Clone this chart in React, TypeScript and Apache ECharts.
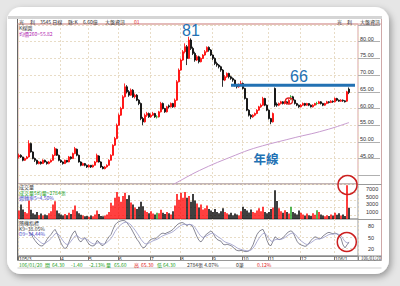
import React, { useEffect, useRef } from "react";
import * as echarts from "echarts";

// [open, close, low, high] per trading slot
const candles: number[][] = [
[45.5,46,45,46.5],[46,45.5,45.2,46.3],[45.5,44.5,44.2,45.6],[44.5,45,44.3,45.3],[45,45.5,44.8,45.8],
[45.5,49.5,45.3,50.5],[49.5,47,46.8,49.8],[47,45,44.8,47.2],[45,44.5,44,45.3],[44.5,43.5,43.2,44.7],
[43.5,44,43.3,44.3],[44,43.5,43.2,44.2],[43.5,44.5,43.4,44.8],[44.5,44,43.8,44.7],[44,43.5,43.2,44.2],
[43.5,44,43.3,44.3],[44,44.5,43.8,44.8],[44.5,46,44.4,46.3],[46,48,45.8,48.5],[47.8,46,45.8,48],
[46,44.5,44.2,46.2],[44.5,44,43.7,44.8],[44,43.5,43.2,44.2],[43.5,44.5,43.4,44.7],[44.5,44,43.8,44.6],
[44,45.5,43.9,45.8],[45.5,45,44.7,45.7],[45,46.5,44.9,46.8],[46.5,48,46.3,48.5],[47.8,46,45.7,48],
[46,44,43.8,46.2],[44,43,42.7,44.2],[43,43.5,42.8,43.8],[43.5,43,42.7,43.7],[43,42.5,42.2,43.2],
[42.5,43,42.3,43.3],[43,42.5,42.2,43.1],[42.5,43,42.3,43.2],[43,44,42.9,44.3],[44,46,43.9,46.5],
[45.8,44,43.8,46],[44,42.5,42.2,44.2],[42.5,42,41.8,42.8],[42,42.5,41.8,42.8],[42.5,43,42.3,43.3],
[43,44.5,42.9,44.8],[44.5,46,44.4,46.3],[46,49,45.9,49.3],[49,51,48.8,51.5],[51,55,50.8,55.5],
[55,58,54.8,58.5],[58,60,57.8,60.5],[60,63.5,59.8,64],[63.5,66.5,63.3,67.5],[66.5,65,64.5,67],
[65,64,63.5,65.5],[64,65.5,63.8,66],[65.5,63.5,63.2,65.8],[63.5,64,63,64.5],[64,62.5,62.2,64.3],
[62.5,61.5,61,62.8],[61.5,57,56.5,61.8],[57,56,55,57.5],[56,58,55.8,58.5],[58,58.5,57.5,59],
[58.5,57.5,57.2,58.8],[57.5,58,57.2,58.5],[58,58.5,57.8,59],[58.5,57.5,57.2,58.7],[57.5,57.5,57,58],
[57.5,59,57.3,59.3],[59,61.5,58.8,62],[61.5,60,59.7,61.8],[60,59,58.7,60.2],[59,60.5,58.8,60.8],
[60.8,60.5,60,61.2],[60.5,61.5,60.3,61.8],[61.5,60.5,60.2,61.7],[60.5,62.5,60.3,63],[62.5,68,62.3,68.5],
[68,71.5,67.8,72],[71.5,74.5,71.3,75],[74.5,77,74.3,77.5],[77,78.5,76.5,79.5],[78.5,75,73,79],
[75,80.5,74.8,81.5],[80.5,78,77.5,81],[78,76.5,76,78.5],[76.5,74.5,74,77],[74.5,75.5,74.2,76],
[75.5,74,73.5,75.8],[74,75,73.8,75.3],[75,76,74.8,76.3],[76,77,75.8,77.5],[77,78.3,76.8,78.6],
[78.3,77.5,77,78.6],[77.5,76,75.7,77.8],[76,75,74.5,76.2],[75,73.5,73,75.3],[73.5,73,72.5,74],
[73,72.5,72,73.3],[72.5,71.5,71,72.8],[71.5,68.5,66.5,71.8],[68.5,69.5,68.2,70],[69.5,70.5,69.2,70.8],
[70.5,69.5,69,70.7],[69.5,69,68.6,69.8],[69,68.5,68,69.3],[68.5,67,66.6,68.7],[67,66.5,66,67.3],
[66.5,67,66.2,67.5],[67,67.5,66.7,68.3],[67.5,66,65.7,67.8],[66,63,62.7,66.2],[63,59.5,59.2,63.2],
[59.5,58,57.6,59.8],[58,57.5,56.8,58.3],[57.5,58,57.2,58.3],[58,58.5,57.7,58.8],[58.5,59.5,58.3,59.8],
[59.5,60.5,59.3,60.8],[60.5,61,60.2,61.5],[61,63,60.8,63.5],[63,61,60.7,63.2],[61,59.5,59.2,61.2],
[59.5,57,56.7,59.7],[57,56,55.3,57.2],[56,58.5,55.8,58.8],[66,61,60.5,66.3],[61.3,61,60.5,61.8],
[61,61.5,60.7,61.8],[61.5,62,61.2,62.3],[62,61.5,61.2,62.2],[61.5,62,61.2,62.3],[62,61.5,61.2,62.2],
[61.5,62.5,61.3,62.8],[63.5,63.5,62.5,64],[63.5,62.5,62.2,63.8],[62.5,61.5,61.2,62.7],[61.5,61,60.7,61.7],
[61,60.5,60.2,61.2],[60.5,61,60.3,61.3],[61,61.5,60.8,61.8],[61.5,61,60.7,61.7],[61,61.5,60.8,61.7],
[61.5,61,60.7,61.6],[61,60.5,60.3,61.2],[60.5,61,60.3,61.3],[61,61.5,60.8,61.7],[61.5,61.5,61,62],
[61.5,62,61.3,62.3],[62,61.5,61.2,62.2],[61.5,61,60.7,61.7],[61,61.5,60.8,61.7],[61.5,62,61.3,62.3],
[62,61.8,61.5,62.2],[61.8,62.2,61.6,62.5],[62.2,62,61.7,62.4],[62,63,61.8,63.3],[63,62.5,62.2,63.2],
[62.5,62.2,62,62.7],[62.2,62.5,62,62.8],[62.5,62.3,62,62.7],[62.3,62,61.8,62.5],[62.2,65,62,65.3],
[65.8,64.8,64.3,66.3]
];

const volumes: number[] = [
2200,3800,2500,1800,1500,4800,2400,1500,1200,1800,
1000,1400,900,1200,1000,1500,2000,3800,4600,2200,
1500,1200,900,1300,1000,1600,1300,2400,3500,2000,
1500,1100,900,700,800,600,900,700,1200,2200,
1300,800,700,900,1200,1800,4200,3500,5500,7000,
5800,4500,6000,6800,5200,6200,4300,3800,3000,2600,
3200,4500,3300,2200,1800,1500,2000,1400,1200,1600,
1500,2400,1600,1300,1800,1500,1200,2000,3500,6500,
5000,6800,5500,7000,5500,6000,4500,6500,4800,4000,
3000,3800,2500,2800,3500,2600,2200,1800,2600,1800,
1500,2000,2800,1800,1500,1200,1600,1000,1400,1200,
900,2000,3200,2600,2200,1700,2500,1800,1600,2200,
2800,2000,3200,1800,1500,1800,2600,3000,7500,4700,
2800,2000,1600,2300,1800,1400,3200,1800,1500,1200,
2200,1600,1200,900,1400,1000,800,1500,1100,2300,
1800,1200,900,700,1000,800,1200,900,1600,1100,
1500,900,1200,800,8800,2900
];

const kValues: (number | null)[] = [
null,null,null,null,null,66,60,50,42,35,
30,27,28,35,45,52,58,66,72,62,
48,35,25,20,24,38,52,62,68,55,
42,38,45,50,40,32,28,27,30,42,
38,30,28,34,44,52,58,72,84,90,
93,95,96,95,90,82,75,65,55,45,
38,28,22,24,32,40,45,47,46,50,
55,60,62,60,63,65,68,72,78,84,
88,90,90,86,82,86,84,78,65,52,
42,38,45,55,60,64,68,62,52,45,
42,40,32,30,32,30,28,24,18,15,
14,15,14,12,12,14,20,30,45,58,
66,70,72,60,42,30,28,40,52,48,
44,46,50,55,62,66,68,64,52,40,
33,30,28,26,28,35,42,48,52,50,
46,48,54,58,62,64,62,60,62,60,
55,48,30,22,30,38.05
];

const dValues: (number | null)[] = [
null,null,null,null,null,60,60,57,52,46,
41,36,33,34,38,42,47,53,60,61,
57,49,41,34,31,33,40,47,54,55,
51,47,46,47,45,40,36,33,32,35,
36,34,32,33,37,42,47,56,66,74,
80,85,89,91,91,88,84,77,70,62,
54,45,38,33,33,35,38,41,43,45,
48,52,55,57,59,61,63,66,70,75,
79,83,85,86,85,85,85,83,77,69,
60,53,50,52,55,58,61,62,58,54,
50,47,42,38,36,34,32,29,26,22,
19,18,16,15,14,14,16,21,29,39,
48,55,61,61,55,47,40,40,44,45,
45,45,47,50,54,58,61,62,59,53,
46,41,37,33,31,33,36,40,44,46,
46,47,49,52,55,58,59,59,60,60,
58,55,47,39,36,34.44
];

// 年線 (260-day average): [slot index, price]
const yearLine: number[][] = [
[74,36.2],[80,38.2],[88,40.8],[97,43.3],[106,45.5],[115,47.6],
[124,49.2],[132,50.4],[140,51.6],[148,52.7],[157,54.2],[165,55.8]
];

const monthStarts = [0, 21, 35, 50, 66, 81, 97, 112, 125, 141, 158];
const monthLabels = ["105/3", "4", "5", "6", "7", "8", "9", "10", "11", "12", "106/1"];
const priceLabels = [45, 50, 55, 60, 65, 70, 75, 80];
const volumeLabels = [1000, 3000, 5000, 7000];
const kdLabels = [20, 50, 80];
const slotCount = 170;

const GREEN = "#1f9f1f";
const RED = "#ff0000";
const BLUE = "#2271b3";
const GRIDC = "#e8dcc6";
const CJK = '"Noto Sans CJK TC", "Noto Sans", sans-serif';
const LAT = '"Liberation Sans", "Noto Sans CJK TC", sans-serif';

function txt(x: number, y: number, text: string, fill: string, size = 5, extra: any = {}) {
  return {
    type: "text",
    x,
    y,
    z: 50,
    style: {
      text,
      fill,
      fontSize: size,
      lineHeight: size + 0.5,
      fontFamily: CJK,
      verticalAlign: "middle",
      align: "left",
      ...extra,
    },
  };
}
function ln(x1: number, y1: number, x2: number, y2: number, stroke: string, lineWidth = 1, z = 40) {
  return { type: "line", z, shape: { x1, y1, x2, y2 }, style: { stroke, lineWidth } };
}

export default function App() {
  const ref = useRef<HTMLDivElement>(null);
  useEffect(() => {
    const chart = echarts.init(ref.current!, null, { renderer: "svg" });
    const cats = Array.from({ length: slotCount }, (_, i) => String(i));
    const monthSet = new Set(monthStarts);
    const labelMap: Record<number, string> = {};
    monthStarts.forEach((m, i) => (labelMap[m] = monthLabels[i]));
    const isMonth = (i: number) => monthSet.has(i);

    const volData = volumes.map((v, i) => {
      const c = candles[i];
      const col = c[1] > c[0] ? RED : c[1] < c[0] ? "#000000" : GREEN;
      return { value: v, itemStyle: { color: col } };
    });

    const xBase = (gi: number, showLabels: boolean) => ({
      type: "category",
      gridIndex: gi,
      data: cats,
      boundaryGap: true,
      axisLine: { show: showLabels, lineStyle: { color: "#888", width: 1 } },
      axisTick: showLabels
        ? { show: true, interval: isMonth, length: 4, lineStyle: { color: "#777" } }
        : { show: false },
      axisLabel: showLabels
        ? {
            show: true,
            interval: isMonth,
            formatter: (_v: string, i: number) => labelMap[i] ?? "",
            fontSize: 5,
            lineHeight: 5,
            color: "#333",
            align: "left",
            margin: 0.5,
            fontFamily: LAT,
          }
        : { show: false },
      splitLine: { show: true, interval: isMonth, lineStyle: { color: GRIDC, type: [2, 2], width: 1 } },
    });

    const kdColors = Array.from({ length: 11 }, (_, i) => (kdLabels.includes(i * 10) ? GRIDC : "rgba(0,0,0,0)"));

    const option: any = {
      animation: false,
      backgroundColor: "#e6e6e6",
      textStyle: { fontFamily: LAT },
      grid: [
        { left: 18, top: 24, width: 340, height: 160, show: true, borderColor: "#dba3a3", borderWidth: 1 },
        { left: 18, top: 184, width: 340, height: 35, show: true, borderColor: "#999", borderWidth: 1 },
        { left: 18, top: 219, width: 340, height: 37, show: true, borderColor: "#999", borderWidth: 1 },
      ],
      xAxis: [xBase(0, false), xBase(1, false), xBase(2, true)],
      yAxis: [
        {
          type: "value",
          gridIndex: 0,
          position: "right",
          min: 37.4,
          max: 85.3,
          splitNumber: 10,
          axisLine: { show: false },
          axisTick: { show: true, inside: false, length: 22, lineStyle: { color: "#b0b0b0" } },
          axisLabel: {
            formatter: (v: number) => (priceLabels.includes(Math.round(v * 100) / 100) ? v.toFixed(2) : ""),
            fontSize: 5.5,
            lineHeight: 6,
            color: "#333",
            margin: 2,
            verticalAlign: "bottom",
            showMinLabel: false,
            showMaxLabel: false,
          },
          splitLine: { show: true, lineStyle: { color: GRIDC, type: [2, 2] } },
        },
        {
          type: "value",
          gridIndex: 1,
          position: "right",
          min: 0,
          max: 9100,
          interval: 1000,
          axisLine: { show: false },
          axisTick: { show: false },
          axisLabel: {
            formatter: (v: number) => (volumeLabels.includes(v) ? String(v) : ""),
            fontSize: 5.5,
            lineHeight: 6,
            color: "#333",
            margin: 8,
            verticalAlign: "bottom",
            showMaxLabel: false,
          },
          splitLine: {
            show: true,
            lineStyle: { color: ["rgba(0,0,0,0)", GRIDC], type: [2, 2] },
          },
        },
        {
          type: "value",
          gridIndex: 2,
          position: "right",
          min: 0,
          max: 100,
          interval: 10,
          axisLine: { show: false },
          axisTick: { show: false },
          axisLabel: {
            formatter: (v: number) => (kdLabels.includes(v) ? String(v) : ""),
            fontSize: 5.5,
            lineHeight: 6,
            color: "#333",
            margin: 10,
            verticalAlign: "middle",
          },
          splitLine: { show: true, lineStyle: { color: kdColors, type: [2, 2] } },
        },
      ],
      series: [
        {
          type: "candlestick",
          xAxisIndex: 0,
          yAxisIndex: 0,
          data: candles,
          barWidth: 1.5,
          itemStyle: {
            color: RED,
            color0: "#000000",
            borderColor: RED,
            borderColor0: "#000000",
            borderColorDoji: GREEN,
            borderWidth: 0.8,
          },
        },
        {
          type: "line",
          xAxisIndex: 0,
          yAxisIndex: 0,
          data: yearLine,
          smooth: 0.3,
          symbol: "none",
          lineStyle: { color: "#c79ccf", width: 1 },
        },
        {
          type: "bar",
          xAxisIndex: 1,
          yAxisIndex: 1,
          data: volData,
          barWidth: 1.5,
        },
        {
          type: "line",
          xAxisIndex: 2,
          yAxisIndex: 2,
          data: kValues,
          symbol: "none",
          lineStyle: { color: "#6a6a7a", width: 0.8 },
        },
        {
          type: "line",
          xAxisIndex: 2,
          yAxisIndex: 2,
          data: dValues,
          symbol: "none",
          lineStyle: { color: "#9a9ac8", width: 0.8 },
        },
      ],
      graphic: [
        {
          type: "rect",
          z: -10,
          shape: { x: 7, y: 7, width: 382, height: 267, r: 14 },
          style: {
            fill: "#ffffff",
            shadowBlur: 7,
            shadowOffsetX: 2,
            shadowOffsetY: 3,
            shadowColor: "rgba(0,0,0,0.35)",
          },
        },
        { type: "rect", z: 40, shape: { x: 8, y: 16, width: 374, height: 3 }, style: { fill: "#d5d5d5" } },
        ln(17.5, 19, 17.5, 260.5, "#666"),
        ln(381.5, 19, 381.5, 260.5, "#cfa8a8"),
        ln(17.5, 24, 381.5, 24, "#dba3a3"),
        ln(358, 184.5, 381.5, 184.5, "#999"),
        ln(358, 219.5, 381.5, 219.5, "#999"),
        ln(17.5, 256, 381.5, 256, "#888"),
        ln(17.5, 260.5, 381.5, 260.5, "#999"),
        ln(358, 256, 358, 260.5, "#999"),
        ln(17.5, 268, 381.5, 268, "#cfcfcf"),
        // top header
        txt(19, 21.3, "光", "#333"),
        txt(30, 21.3, "利", "#333"),
        txt(40, 21.3, "3545 日線", "#333"),
        txt(68, 21.3, "縣:K", "#333"),
        txt(83, 21.3, "6.60億", "#333"),
        txt(105, 21.3, "大盤資訊", "#333"),
        txt(134, 21.3, "01", "#e02020"),
        txt(337, 21.3, "光　利", "#333"),
        txt(360, 21.3, "大盤資訊", "#333"),
        txt(19, 27, "K線圖", "#333"),
        txt(19, 33, "均價260=55.82", "#b020b0"),
        txt(19, 186.5, "成交量", "#333"),
        txt(19, 192, "成交量5均量=2784張", GREEN),
        txt(19, 197.5, "週轉率5=4.50%", "#4848c8"),
        txt(19, 222.5, "隨機指標", "#333"),
        txt(19, 228, "K9=38.05%", "#333"),
        txt(19, 233.5, "D9=34.44%", "#4848c8"),
        txt(361, 258.3, "106/01/20", "#333", 4.3),
        // bottom info row
        txt(19, 264.5, "106/01/20", GREEN),
        txt(45, 264.5, "開", GREEN),
        txt(52, 264.5, "64.30", GREEN),
        txt(71, 264.5, "-1.40", GREEN),
        txt(89, 264.5, "-2.13%", GREEN),
        txt(106, 264.5, "量", GREEN),
        txt(114, 264.5, "65.60", GREEN),
        txt(134, 264.5, "高", "#e02020"),
        txt(141, 264.5, "65.30", "#e02020"),
        txt(157, 264.5, "低", GREEN),
        txt(163, 264.5, "64.30", GREEN),
        txt(187, 264.5, "2784張 4.07%", "#333"),
        txt(236, 264.5, "0筆", "#333"),
        txt(257, 264.5, "0.12%", "#e02020"),
        // annotations
        {
          type: "text",
          x: 191,
          y: 30,
          z: 100,
          style: { text: "81", fill: BLUE, fontSize: 16, fontFamily: LAT, align: "center", verticalAlign: "middle" },
        },
        {
          type: "text",
          x: 299,
          y: 76,
          z: 100,
          style: { text: "66", fill: BLUE, fontSize: 16, fontFamily: LAT, align: "center", verticalAlign: "middle" },
        },
        ln(231, 85.3, 355, 85.3, BLUE, 3, 100),
        {
          type: "text",
          x: 266,
          y: 158.5,
          z: 100,
          style: {
            text: "年線",
            fill: BLUE,
            fontSize: 12.5,
            fontWeight: "bold",
            fontFamily: CJK,
            align: "center",
            verticalAlign: "middle",
          },
        },
        {
          type: "ellipse",
          z: 100,
          shape: { cx: 289, cy: 101, rx: 3.5, ry: 3 },
          style: { fill: "none", stroke: "#e02020", lineWidth: 1.4 },
        },
        {
          type: "circle",
          z: 100,
          shape: { cx: 347.5, cy: 185, r: 9.5 },
          style: { fill: "none", stroke: "#cc1f1f", lineWidth: 1.5 },
        },
        {
          type: "circle",
          z: 100,
          shape: { cx: 346.8, cy: 242, r: 9.5 },
          style: { fill: "none", stroke: "#cc1f1f", lineWidth: 1.5 },
        },
      ],
    };
    chart.setOption(option);
    return () => chart.dispose();
  }, []);
  return <div ref={ref} style={{ position: "absolute", left: 0, top: 0, width: 400, height: 286 }} />;
}
